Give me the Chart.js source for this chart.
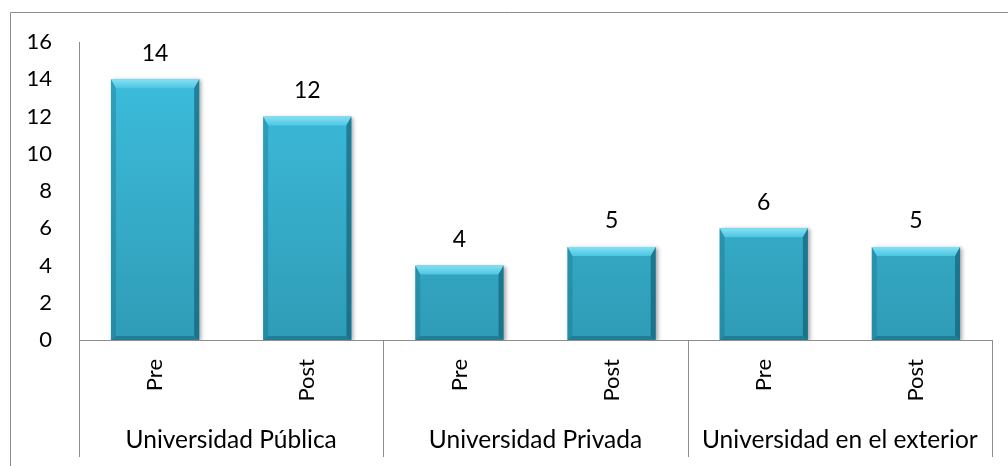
<html lang="es">
<head>
  <meta charset="UTF-8">
  <title>Universidades</title>
  <script src="https://cdn.jsdelivr.net/npm/chart.js"></script>
  <style>
    html, body { margin: 0; padding: 0; background: #ffffff; }
  </style>
</head>
<body>
  <canvas id="chartBar" width="1008" height="466"></canvas>
  <script>
    // datos
    const categories = ['Pre', 'Post', 'Pre', 'Post', 'Pre', 'Post'];
    const groups = ['Universidad Pública', 'Universidad Privada', 'Universidad en el exterior'];
    const groupSize = [2, 2, 2];
    const values = [14, 12, 4, 5, 6, 5];
    const yTicks = [0, 2, 4, 6, 8, 10, 12, 14, 16];

    const FONT = 'Lato, "Open Sans", sans-serif';
    const AXIS = '#8c8c8c';

    // marco, lineas de grupo y etiquetas de grupo
    const groupAxisPlugin = {
      id: 'groupAxis',
      afterDraw(chart) {
        const ctx = chart.ctx;
        const x = chart.scales.x;
        const area = chart.chartArea;
        const bottom = 457;
        ctx.save();
        ctx.strokeStyle = AXIS;
        ctx.lineWidth = 1;
        // marco exterior
        ctx.beginPath();
        ctx.moveTo(10.5, 466);
        ctx.lineTo(10.5, 12.5);
        ctx.lineTo(1008, 12.5);
        ctx.stroke();
        // eje y extendido
        ctx.beginPath();
        ctx.moveTo(Math.round(area.left) + 0.5, area.top);
        ctx.lineTo(Math.round(area.left) + 0.5, bottom);
        ctx.stroke();
        // divisores y etiquetas
        const step = (area.right - area.left) / categories.length;
        let idx = 0;
        ctx.fillStyle = '#000';
        ctx.font = '24.5px ' + FONT;
        ctx.textAlign = 'center';
        ctx.textBaseline = 'middle';
        groups.forEach((g, i) => {
          const start = x.getPixelForValue(idx) - step / 2;
          idx += groupSize[i];
          const end = x.getPixelForValue(idx - 1) + step / 2;
          ctx.beginPath();
          ctx.moveTo(Math.round(end) + 0.5, area.bottom);
          ctx.lineTo(Math.round(end) + 0.5, bottom);
          ctx.stroke();
          ctx.fillText(g, (start + end) / 2, 440);
        });
        ctx.restore();
      }
    };

    // barras con bisel
    const bevelPlugin = {
      id: 'bevel',
      beforeDatasetsDraw(chart) {
        const ctx = chart.ctx;
        ctx.save();
        ctx.shadowColor = 'rgba(0,0,0,0.35)';
        ctx.shadowBlur = 4;
        ctx.shadowOffsetX = 2;
        ctx.shadowOffsetY = 1;
      },
      afterDatasetsDraw(chart) {
        const ctx = chart.ctx;
        ctx.restore();
        ctx.save();
        const meta = chart.getDatasetMeta(0);
        meta.data.forEach((bar, i) => {
          const l = bar.x - bar.width / 2;
          const r = bar.x + bar.width / 2;
          const t = bar.y;
          const b = bar.base;
          const bw = 5, bh = 9;
          // bisel superior
          let g = ctx.createLinearGradient(0, t, 0, t + bh);
          g.addColorStop(0, '#86e0f2');
          g.addColorStop(1, '#4cc6e3');
          ctx.fillStyle = g;
          ctx.beginPath();
          ctx.moveTo(l, t); ctx.lineTo(r, t); ctx.lineTo(r - bw, t + bh); ctx.lineTo(l + bw, t + bh);
          ctx.closePath(); ctx.fill();
          // izquierda
          ctx.fillStyle = 'rgba(20,110,135,0.35)';
          ctx.beginPath();
          ctx.moveTo(l, t); ctx.lineTo(l + bw, t + bh); ctx.lineTo(l + bw, b - 4); ctx.lineTo(l, b);
          ctx.closePath(); ctx.fill();
          // derecha
          ctx.fillStyle = 'rgba(10,80,100,0.55)';
          ctx.beginPath();
          ctx.moveTo(r, t); ctx.lineTo(r - bw, t + bh); ctx.lineTo(r - bw, b - 4); ctx.lineTo(r, b);
          ctx.closePath(); ctx.fill();
          // abajo
          ctx.fillStyle = 'rgba(10,80,100,0.4)';
          ctx.beginPath();
          ctx.moveTo(l, b); ctx.lineTo(l + bw, b - 4); ctx.lineTo(r - bw, b - 4); ctx.lineTo(r, b);
          ctx.closePath(); ctx.fill();
          // valor
          ctx.fillStyle = '#000';
          ctx.font = '23px ' + FONT;
          ctx.textAlign = 'center';
          ctx.textBaseline = 'middle';
          ctx.fillText(String(values[i]), bar.x, t - 26);
        });
        ctx.restore();
      }
    };

    const ctxBar = document.getElementById('chartBar');
    const barChart = new Chart(ctxBar, {
      type: 'bar',
      data: {
        labels: categories,
        datasets: [{
          data: values,
          barPercentage: 0.58,
          categoryPercentage: 1,
          backgroundColor: (c) => {
            const area = c.chart.chartArea;
            if (!area) return '#3bb8d8';
            const g = c.chart.ctx.createLinearGradient(0, area.top, 0, area.bottom);
            g.addColorStop(0, '#3ec0e0');
            g.addColorStop(1, '#2f9cb7');
            return g;
          }
        }]
      },
      options: {
        responsive: false,
        animation: false,
        layout: { padding: { top: 42, right: 16, left: 0, bottom: 0 } },
        plugins: { legend: { display: false }, tooltip: { enabled: false } },
        scales: {
          x: {
            grid: { display: false, drawTicks: false },
            border: { display: true, color: AXIS },
            ticks: {
              minRotation: 90, maxRotation: 90, padding: 19,
              color: '#000', font: { family: FONT, size: 22 }
            },
            afterFit(scale) { scale.height = 126; }
          },
          y: {
            min: 0, max: 16,
            afterBuildTicks(scale) { scale.ticks = yTicks.map(v => ({ value: v })); },
            grid: { display: false, drawTicks: false },
            border: { display: false },
            ticks: { padding: 27, color: '#000', font: { family: FONT, size: 22 } },
            afterFit(scale) { scale.width = 79; }
          }
        }
      },
      plugins: [bevelPlugin, groupAxisPlugin]
    });
  </script>
</body>
</html>
